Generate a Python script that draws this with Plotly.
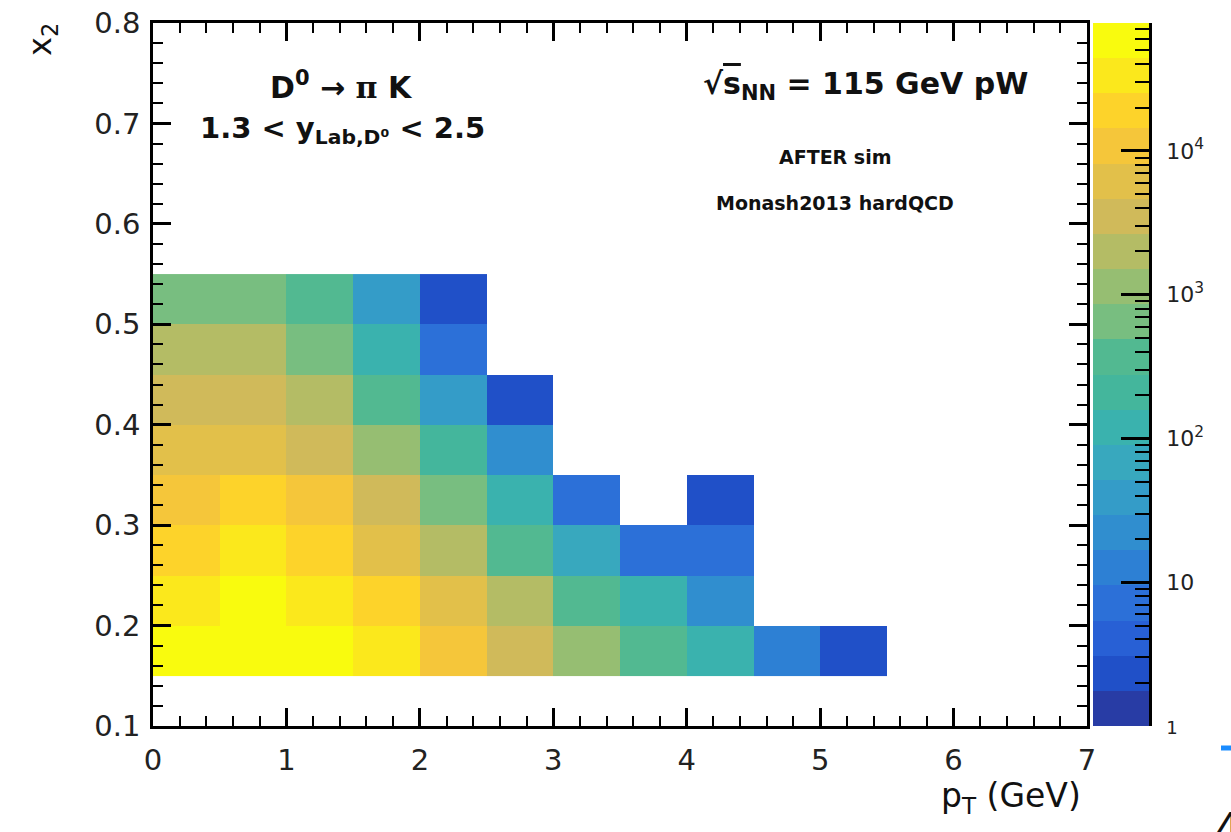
import numpy as np
import plotly.graph_objects as go

# ---------------- data ----------------
pt_centers = [0.25, 0.75, 1.25, 1.75, 2.25, 2.75, 3.25, 3.75, 4.25, 4.75, 5.25]
x2_centers = [0.175, 0.225, 0.275, 0.325, 0.375, 0.425, 0.475, 0.525]
counts_x2_0175 = [56000, 62000, 54000, 33000, 10500, 3600, 1150, 360, 120, 12, 2]
counts_x2_0225 = [34000, 60000, 32000, 19500, 6300, 2050, 380, 125, 22, None, None]
counts_x2_0275 = [18500, 33500, 19000, 6100, 1950, 370, 68, 7, 7, None, None]
counts_x2_0325 = [10900, 19200, 11000, 3450, 640, 118, 7, None, 2, None, None]
counts_x2_0375 = [6200, 6100, 3500, 1150, 210, 22, None, None, None, None, None]
counts_x2_0425 = [3600, 3400, 2000, 360, 40, 2, None, None, None, None, None]
counts_x2_0475 = [2000, 1950, 660, 120, 7, None, None, None, None, None, None]
counts_x2_0525 = [650, 640, 380, 40, 2, None, None, None, None, None, None]
counts = [counts_x2_0175, counts_x2_0225, counts_x2_0275, counts_x2_0325,
          counts_x2_0375, counts_x2_0425, counts_x2_0475, counts_x2_0525]

cbar_tickvals = [0, 1, 2, 3, 4]
cbar_ticktext = ["<span style='font-size:18px'>1</span>", "10", "10<sup>2</sup>",
                 "10<sup>3</sup>", "10<sup>4</sup>"]

# ---------------- style ----------------
W, H = 1231, 832
FONT = "DejaVu Sans"
zmax_log = 4.89
band_colors = ['#283ca5', '#2050c8', '#2860d5', '#2c70d8', '#2d80d4', '#308ecf',
               '#349cc8', '#38a8be', '#3ab2ae', '#44b69c', '#52b991', '#78be80',
               '#96be72', '#b4bc65', '#d0ba5a', '#e2c04a', '#f5c63a', '#fdd32a',
               '#fbe81c', '#f9fb0e']
nb = len(band_colors)
colorscale = []
for i, c in enumerate(band_colors):
    colorscale.append([i / nb, c])
    colorscale.append([(i + 1) / nb, c])

def px_x(p):
    return p / W

def px_y(p):
    return 1 - p / H

z = [[(np.log10(v) if v is not None else None) for v in row] for row in counts]

fig = go.Figure()
fig.add_trace(go.Heatmap(x=pt_centers, y=x2_centers, z=z, colorscale=colorscale,
                         zmin=0, zmax=zmax_log, showscale=False, hoverongaps=False,
                         xaxis='x', yaxis='y'))

band_centers = (np.arange(nb) + 0.5) * zmax_log / nb
fig.add_trace(go.Heatmap(x=[0], y=band_centers, z=[[v] for v in band_centers],
                         colorscale=colorscale, zmin=0, zmax=zmax_log,
                         showscale=False, xaxis='x2', yaxis='y2'))

minor_cb = [np.log10(k * 10 ** d) for d in range(0, 5) for k in range(2, 10)
            if np.log10(k * 10 ** d) < zmax_log]

xdom = [px_x(153), px_x(1087)]
ydom = [px_y(726), px_y(23)]

axis_common = dict(showline=True, linecolor='black', linewidth=2.5, mirror='ticks',
                   ticks='inside', tickwidth=2.5, tickcolor='black', showgrid=False,
                   zeroline=False, automargin=False,
                   tickfont=dict(family=FONT, size=29, color='#222'))

fig.update_layout(
    width=W, height=H, margin=dict(l=0, r=0, t=0, b=0, pad=0, autoexpand=False),
    paper_bgcolor='white', plot_bgcolor='white', showlegend=False,
    font=dict(family=FONT, color='#111'),
    xaxis=dict(domain=xdom, range=[0, 7], tickvals=list(range(8)), ticklen=18,
               minor=dict(tickvals=[round(0.2 * k, 1) for k in range(36) if k % 5],
                          ticklen=10, tickwidth=2, ticks='inside', tickcolor='black'),
               anchor='y', ticklabelstandoff=6, **axis_common),
    yaxis=dict(domain=ydom, range=[0.1, 0.8], tickvals=[round(0.1 * k, 1) for k in range(1, 9)],
               ticktext=['%.1f' % (0.1 * k) for k in range(1, 9)], ticklen=18,
               minor=dict(tickvals=[round(0.1 + 0.02 * k, 2) for k in range(36) if k % 5],
                          ticklen=10, tickwidth=2, ticks='inside', tickcolor='black'),
               anchor='x', ticklabelstandoff=4, **axis_common),
    xaxis2=dict(domain=[px_x(1093), px_x(1149)], range=[-0.5, 0.5], visible=False,
                anchor='y2', automargin=False),
    yaxis2=dict(domain=ydom, range=[0, zmax_log], anchor='x2', side='right',
                tickvals=cbar_tickvals, ticktext=cbar_ticktext, ticks='inside',
                ticklen=28, tickwidth=2.5, tickcolor='black', showline=True,
                linecolor='black', linewidth=2.5, showgrid=False, zeroline=False,
                ticklabelstandoff=10, automargin=False,
                tickfont=dict(family=FONT, size=22, color='#222'),
                minor=dict(tickvals=minor_cb, ticklen=14, tickwidth=2,
                           ticks='inside', tickcolor='black')),
)

ann = [
    dict(text="<b>D<sup>0</sup> → <span style='font-family:DejaVu Serif'>π</span> K</b>",
         x=px_x(341), y=px_y(86), size=30, xanchor='center'),
    dict(text="<b>1.3 < y<sub>Lab,D⁰</sub> < 2.5</b>",
         x=px_x(198), y=px_y(130), size=29, xanchor='left'),
    dict(text="<b>√<span style='text-decoration:overline'>s</span><sub>NN</sub> = 115 GeV pW</b>",
         x=px_x(865), y=px_y(86), size=30, xanchor='center'),
    dict(text="<b>AFTER sim</b>", x=px_x(835), y=px_y(157), size=19, xanchor='center'),
    dict(text="<b>Monash2013 hardQCD</b>", x=px_x(835), y=px_y(203), size=19,
         xanchor='center'),
    dict(text="p<sub>T</sub> (GeV)", x=px_x(1083), y=px_y(797), size=33, xanchor='right'),
]
annotations = []
for a in ann:
    annotations.append(dict(text=a['text'], x=a['x'], y=a['y'], xref='paper', yref='paper',
                            xanchor=a['xanchor'], yanchor='middle', showarrow=False,
                            font=dict(family=FONT, size=a['size'], color='#111')))
annotations.append(dict(text="x<sub>2</sub>", x=px_x(42), y=px_y(40), xref='paper',
                        yref='paper', xanchor='center', yanchor='middle', textangle=-90,
                        showarrow=False, font=dict(family=FONT, size=32, color='#111')))
annotations.append(dict(text="4", x=px_x(1212), y=px_y(802), xref='paper', yref='paper',
                        xanchor='left', yanchor='top', showarrow=False,
                        font=dict(family=FONT, size=44, color='#111')))
fig.update_layout(annotations=annotations)
fig.add_shape(type='line', xref='paper', yref='paper', x0=px_x(1221), x1=1.0,
              y0=px_y(748), y1=px_y(748), line=dict(color='#1a8cff', width=5))

fig.write_html("out.html")
